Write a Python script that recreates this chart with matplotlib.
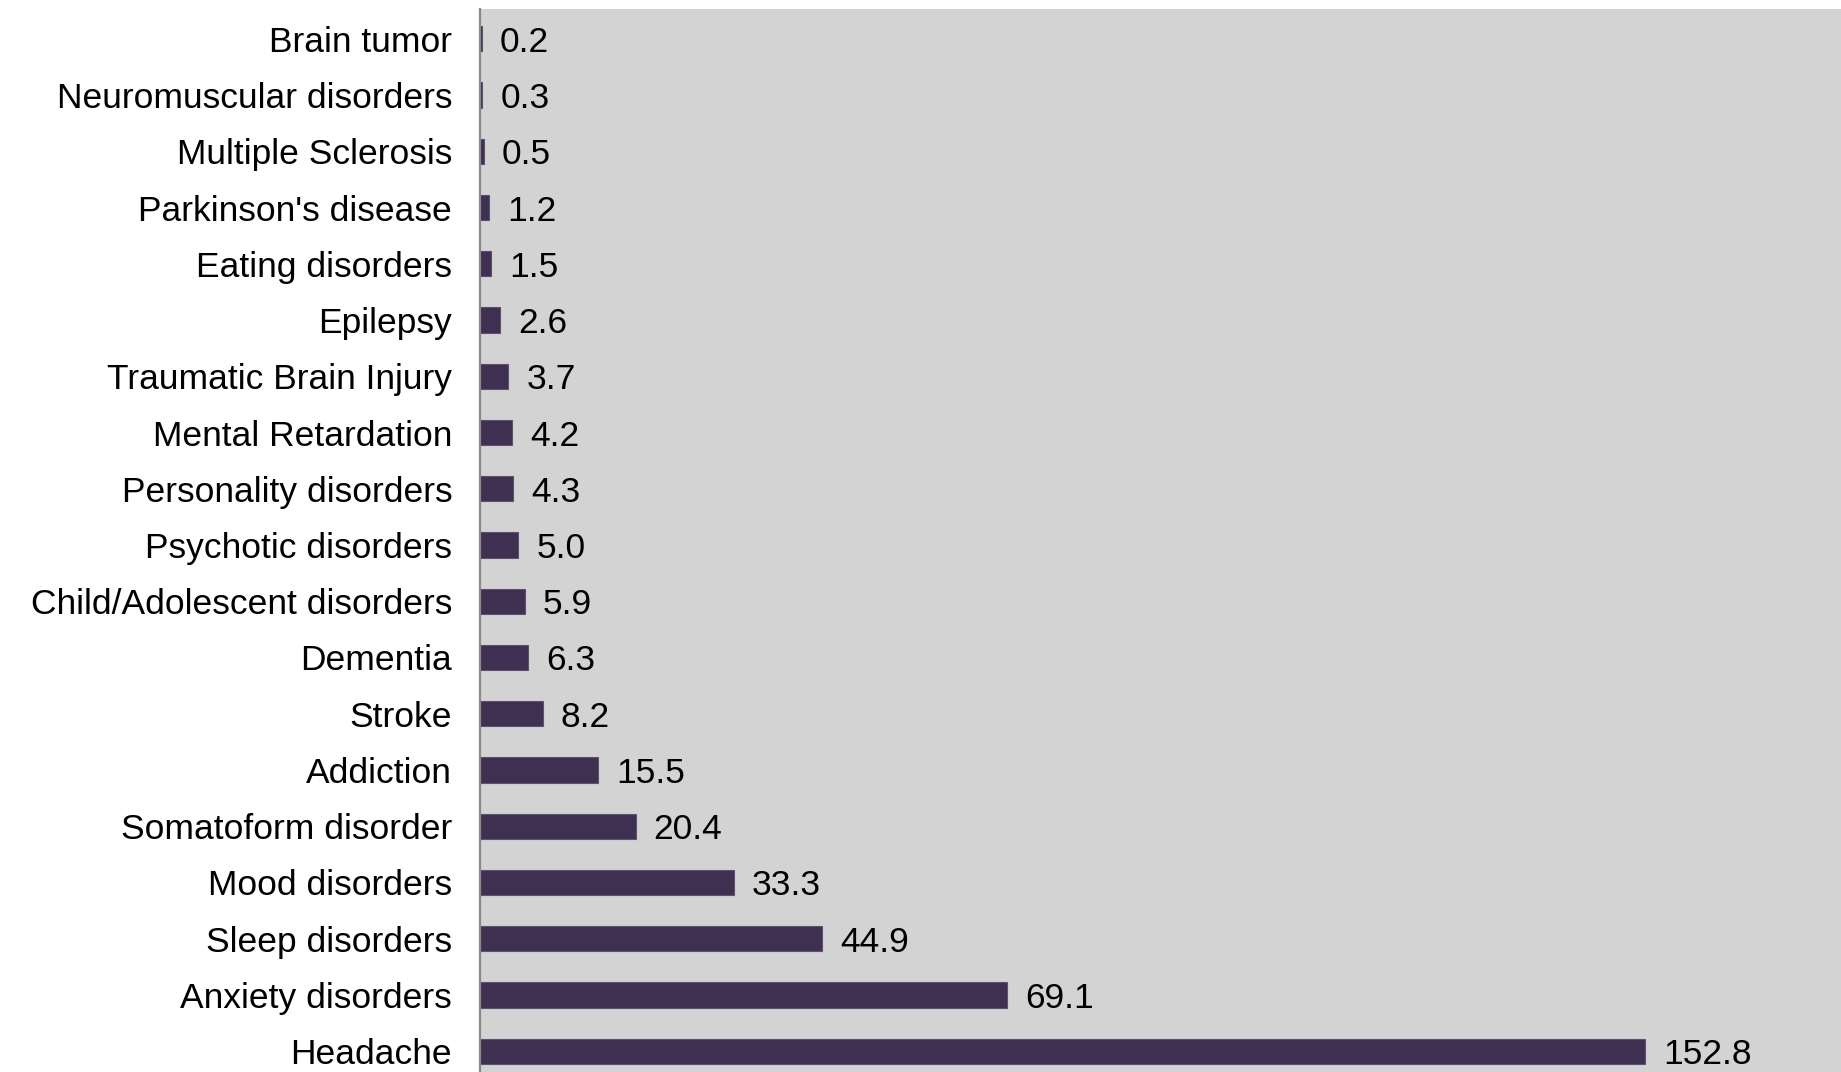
import matplotlib.pyplot as plt

plt.rcParams['font.family'] = ['Liberation Sans', 'DejaVu Sans']

categories = ['Brain tumor', 'Neuromuscular disorders', 'Multiple Sclerosis',
              "Parkinson's disease", 'Eating disorders', 'Epilepsy',
              'Traumatic Brain Injury', 'Mental Retardation', 'Personality disorders',
              'Psychotic disorders', 'Child/Adolescent disorders', 'Dementia',
              'Stroke', 'Addiction', 'Somatoform disorder', 'Mood disorders',
              'Sleep disorders', 'Anxiety disorders', 'Headache']
values = [0.2, 0.3, 0.5, 1.2, 1.5, 2.6, 3.7, 4.2, 4.3, 5.0, 5.9, 6.3,
          8.2, 15.5, 20.4, 33.3, 44.9, 69.1, 152.8]

fig = plt.figure(figsize=(18.41, 10.72), dpi=100)
ax = fig.add_axes([480 / 1841, 0, 1 - 480 / 1841, 1 - 9 / 1072])
ax.set_facecolor('#d3d3d3')

ypos = list(range(len(categories)))
bars = ax.barh(ypos, values, height=0.45, color='#3f2f50',
               edgecolor='#5e506e', linewidth=0.8)

for y, v in zip(ypos, values):
    ax.annotate(f'{v:.1f}', (v, y), xytext=(13, 0), textcoords='offset points',
                va='center_baseline', ha='left', fontsize=25.5)

ax.set_yticks(ypos)
ax.set_yticklabels(categories, fontsize=25.5)
ax.tick_params(axis='y', length=0, pad=20)
ax.set_xticks([])
ax.set_xlim(0, 178.5)
ax.set_ylim(18.37, -0.53)

for s in ['top', 'right', 'bottom']:
    ax.spines[s].set_visible(False)
ax.spines['left'].set_color('#888888')
ax.spines['left'].set_linewidth(1.6)

fig.savefig('out.png', dpi=100)
